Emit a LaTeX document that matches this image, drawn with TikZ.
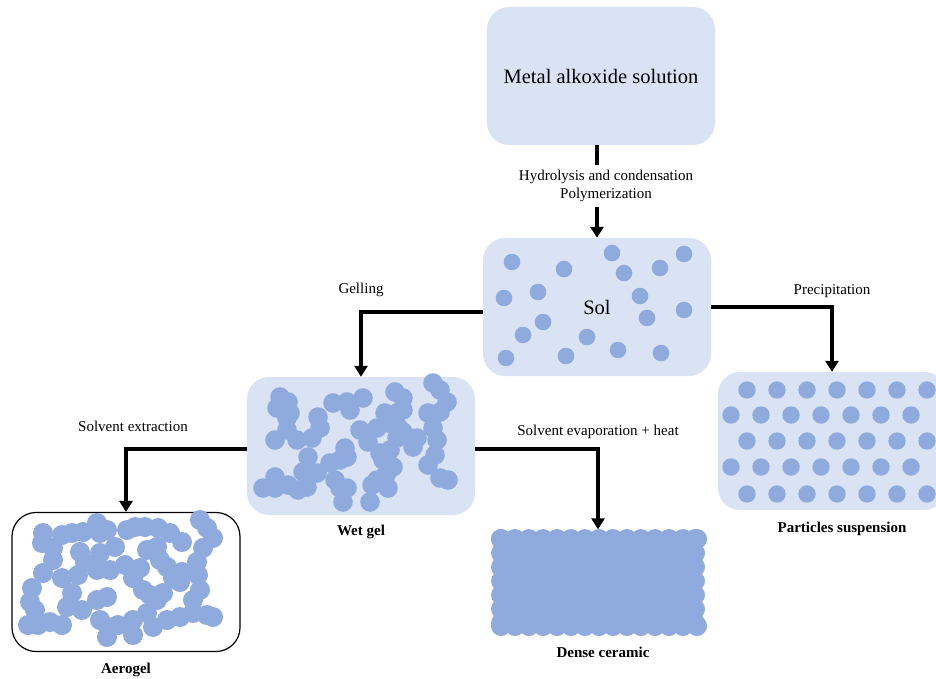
\documentclass[tikz,border=0pt]{standalone}
\usepackage{fontspec}
\setmainfont{Liberation Serif}
\usepackage{xcolor}
\usepackage{tikz}
\usetikzlibrary{arrows.meta}
\tikzstyle{block} = [rectangle, rounded corners = 22pt, fill=boxBlue, minimum width = 228pt, minimum height = 138pt, font = \fontsize{20.5}{23}\selectfont]
\tikzstyle{blockAero} = [rectangle, rounded corners = 24pt, draw, line width = 1.2pt, fill=white, minimum width = 228pt, minimum height = 139pt]
\tikzstyle{blockDense} = [rectangle, fill=dotBlue, minimum width = 197pt, minimum height = 89pt]
\tikzstyle{line} = [line width = 3.5pt, -{Triangle[length = 11pt, width = 13pt]}]
\tikzstyle{lbl} = [font = \fontsize{15}{18}\selectfont]
\tikzstyle{blockName} = [font = \bfseries\fontsize{15}{17}\selectfont]
\tikzstyle{particle} = [fill=dotBlue]
\definecolor{boxBlue}{HTML}{DAE3F3}
\definecolor{dotBlue}{HTML}{8FAADC}

\begin{document}
\begin{tikzpicture}[x = 1pt, y = -1pt]
        \useasboundingbox (0,0) rectangle (936,679);
        \node(M) [block] at (601,76) {Metal alkoxide solution};
        \node(S) [block, below of = M, node distance = 231pt, xshift = -4pt] {Sol};
        \node(W) [block, left of = S, node distance = 236pt, yshift = -139pt] {};
        \node(P) [block, right of = S, node distance = 235pt, yshift = -134pt] {};
        \node(A) [blockAero, left of = W, node distance = 235pt, yshift = -136pt] {};
        \node(D) [blockDense, right of = A, node distance = 472pt] {};
        \node(nameW) [blockName, below of = W, node distance = 86pt] {Wet gel};
        \node(nameP) [blockName, below of = P, node distance = 88pt, xshift = 10pt] {Particles suspension};
        \node(nameA) [blockName, below of = A, node distance = 88pt] {Aerogel};
        \node(nameD) [blockName, below of = D, node distance = 70pt, xshift = 5pt] {Dense ceramic};
        % sol: loose particles
        \foreach \x/\y in {512/262, 564/269, 612/253, 624/273, 660/268, 684/254, 504/298, 538/292, 640/296, 684/310, 543/322, 647/318, 523/335, 587/337, 506/358, 566/356, 618/350, 661/353}
            \fill[particle] (\x,\y) circle (8.3);
        % particles suspension: ordered rows
        \foreach \row/\y in {0/390, 1/415, 2/441, 3/467, 4/494}{
            \foreach \k in {0,...,6}{
                \pgfmathsetmacro\xo{747 - 16*mod(\row,2) + 30*\k}
                \fill[particle] (\xo,\y) circle (8.7);
            }
        }
        % wet gel: particle chains
        \foreach \x/\y in {280/397, 288/402, 277/408, 290/413, 287/418, 287/430, 275/440, 297/440,
            318/417, 320/428, 312/438, 333/403, 347/402, 363/398, 350/410,
            395/392, 403/398, 385/413, 397/413, 403/410,
            433/383, 440/390, 447/402, 428/413, 440/412, 433/428, 437/440, 435/455, 428/465, 440/478, 448/480,
            360/430, 368/442, 377/428, 388/423, 398/427, 403/432, 397/438, 417/438, 413/447, 380/453, 390/450,
            383/460, 393/467, 387/473, 377/480, 372/485, 388/488, 370/502,
            308/457, 303/472, 317/473, 330/463, 340/460, 345/448, 347/457, 335/480, 340/488, 347/488, 343/502,
            263/488, 275/477, 275/488, 288/485, 298/490, 307/487}
            \fill[particle] (\x,\y) circle (9.8);
        % aerogel: open network
        \foreach \x/\y in {43/533, 42/543, 53/548, 62/535, 72/533, 83/532, 97/523, 100/533, 107/530, 115/547,
            127/530, 135/527, 145/527, 158/528, 170/533, 182/542, 200/520, 207/528, 213/538, 203/548,
            197/562, 198/575, 200/590, 193/600, 207/615, 213/617,
            53/560, 43/573, 32/588, 30/602, 35/610, 28/625, 38/625, 50/622, 62/625,
            80/552, 85/563, 78/575, 62/578, 97/570, 100/553, 110/570, 125/565, 133/578, 140/568,
            147/550, 157/547, 160/560, 167/567, 173/578, 182/572, 180/582, 143/590, 150/595, 157/600,
            163/593, 72/593, 67/607, 82/610, 97/600, 107/597, 100/620, 108/627, 107/637, 118/625,
            133/620, 133/635, 147/613, 153/627, 167/620, 180/617, 193/613}
            \fill[particle] (\x,\y) circle (10);
        % dense ceramic: packed edge
        \foreach \x in {501,515,...,697}{
            \fill[particle] (\x,539) circle (10);
            \fill[particle] (\x,626) circle (10);
        }
        \foreach \y in {539,553,...,627}{
            \fill[particle] (501,\y) circle (10);
            \fill[particle] (695,\y) circle (10);
        }
        \draw[line] (S.north |- M.south) --node[lbl, pos = 0.44, fill = white, align = center, inner sep = 5pt, xshift = 9pt]{Hydrolysis and condensation\\Polymerization} (S.north);
        \draw[line] ([yshift = -5pt]S.west) -| node[lbl, pos = 0.5, above = 10pt]{Gelling} (W.north);
        \draw[line] (S.east) -| node[lbl, pos = 0.5, above = 4.5pt]{Precipitation} (P.north);
        \draw[line] ([yshift = -3pt]W.west) -| node[lbl, pos = 0.5, above = 12pt, xshift = 7pt]{Solvent extraction} (A.north);
        \draw[line] ([yshift = -3pt]W.east) -| node[lbl, pos = 0.5, above = 5pt]{Solvent evaporation + heat} ([yshift = 8pt]D.north);
    \end{tikzpicture}
\end{document}
